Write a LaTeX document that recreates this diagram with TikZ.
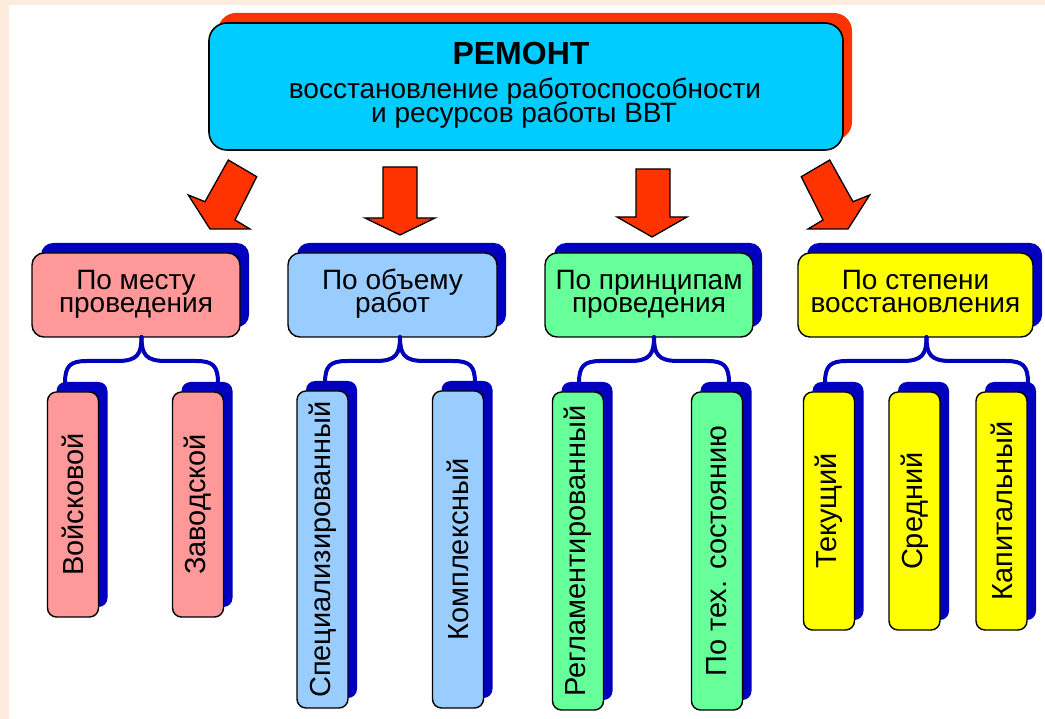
\documentclass[tikz,border=0pt]{standalone}
\usepackage{fontspec}
\setmainfont{Liberation Sans}
\usetikzlibrary{shadows}
\definecolor{peach}{RGB}{253,236,222}
\definecolor{cyanc}{RGB}{0,204,255}
\definecolor{redsh}{RGB}{255,51,0}
\definecolor{arrowc}{RGB}{255,51,0}
\definecolor{pinkc}{RGB}{255,153,153}
\definecolor{bluec}{RGB}{153,204,255}
\definecolor{greenc}{RGB}{102,255,153}
\definecolor{yellowc}{RGB}{255,255,0}
\definecolor{shblue}{RGB}{0,0,190}
\definecolor{bracec}{RGB}{0,0,185}
\newcommand\mybrace[3]{%
 \draw[bracest] (#1,337) .. controls (#1,354) and (#1-4,361) .. (#1-24,361) -- (#2+22,361) .. controls (#2+5,361) and (#2,366) .. (#2,383);
 \draw[bracest] (#1,337) .. controls (#1,354) and (#1+4,361) .. (#1+24,361) -- (#3-22,361) .. controls (#3-5,361) and (#3,366) .. (#3,383);
}
\begin{document}
\begin{tikzpicture}[x=1pt,y=-1pt,
  topbox/.style={draw=black, line width=1.6pt, fill=cyanc, rounded corners=18pt, inner sep=0pt,
     general shadow={fill=redsh, shadow xshift=9pt, shadow yshift=10pt}},
  midbox/.style={draw=black, line width=1.4pt, rounded corners=12pt, inner sep=0pt,
     minimum height=84pt,
     general shadow={fill=shblue, shadow xshift=9pt, shadow yshift=10pt}},
  midtext/.style={anchor=base, font=\fontsize{28}{24}\selectfont, inner sep=0pt},
  vbox/.style={draw=black, line width=1.4pt, rounded corners=9pt, inner sep=0pt,
     minimum width=51pt, font=\fontsize{29}{30}\selectfont,
     general shadow={fill=shblue, shadow xshift=9pt, shadow yshift=10pt}},
  arrowst/.style={fill=arrowc, draw=black, line width=1.3pt, line join=miter},
  bracest/.style={draw=bracec, line width=4pt, line cap=round}
]
\useasboundingbox (0,0) rectangle (1045,719);
\fill[peach] (0,0) rectangle (1045,719);
\fill[white] (9,5) rectangle (1045,719);

% top box
\node[topbox, minimum width=634pt, minimum height=127pt] (top) at (526,86.5) {};
\node[anchor=base, inner sep=0pt, font=\fontsize{32}{32}\selectfont\bfseries] (title) at (521,65) {РЕМОНТ};
\node[anchor=base, inner sep=0pt, font=\fontsize{28}{23}\selectfont] (line2) at (525,99) {восстановление работоспособности};
\node[anchor=base, inner sep=0pt, font=\fontsize{28}{23}\selectfont] (line3) at (524,123) {и ресурсов работы ВВТ};

% arrows
\filldraw[arrowst] (228.3,160) -- (256.7,176.7) -- (235,220) -- (250,229) -- (210,229) -- (188.3,195) -- (205,201.7) -- cycle;
\filldraw[arrowst] (383,167) -- (417,167) -- (417,218) -- (435,218) -- (400,235) -- (365,218) -- (383,218) -- cycle;
\filldraw[arrowst] (636,169) -- (670,169) -- (670,217) -- (687,217) -- (652,237) -- (617,217) -- (636,217) -- cycle;
\filldraw[arrowst] (829.7,160) -- (801.3,176.7) -- (823,220) -- (808,229) -- (848,229) -- (869.7,195) -- (853,201.7) -- cycle;

% level 2
\node[midbox, fill=pinkc, minimum width=208pt] (b1) at (136,295) {};
\node[midtext] (b1a) at (136,290) {По месту};
\node[midtext] (b1b) at (136,313) {проведения};
\node[midbox, fill=bluec, minimum width=209pt] (b2) at (392.5,295) {};
\node[midtext] (b2a) at (392.5,290) {По объему};
\node[midtext] (b2b) at (392.5,313) {работ};
\node[midbox, fill=greenc, minimum width=208pt] (b3) at (649,295) {};
\node[midtext] (b3a) at (649,290) {По принципам};
\node[midtext] (b3b) at (649,313) {проведения};
\node[midbox, fill=yellowc, minimum width=235pt] (b4) at (915.5,295) {};
\node[midtext] (b4a) at (915.5,290) {По степени};
\node[midtext] (b4b) at (915.5,313) {восстановления};

% braces
\mybrace{141.5}{65}{218}
\mybrace{400}{325}{475}
\mybrace{654}{579}{729}
\mybrace{926.5}{825}{1028}

% level 3
\node[vbox, fill=pinkc, minimum height=225pt] (v1) at (73,504.5) {\rotatebox{90}{Войсковой}};
\node[vbox, fill=pinkc, minimum height=225pt] (v2) at (198,504.5) {\rotatebox{90}{Заводской}};
\node[vbox, fill=bluec, minimum height=317pt] (v3) at (322.5,549.5) {\rotatebox{90}{Специализированный}};
\node[vbox, fill=bluec, minimum height=317pt] (v4) at (458,549.5) {\rotatebox{90}{Комплексный}};
\node[vbox, fill=greenc, minimum height=318pt] (v5) at (578,551) {\rotatebox{90}{Регламентированный}};
\node[vbox, fill=greenc, minimum height=318pt] (v6) at (717,551) {\rotatebox{90}{По тех. состоянию}};
\node[vbox, fill=yellowc, minimum height=238pt] (v7) at (829,511) {\rotatebox{90}{Текущий}};
\node[vbox, fill=yellowc, minimum height=238pt] (v8) at (914.5,511) {\rotatebox{90}{Средний}};
\node[vbox, fill=yellowc, minimum height=238pt] (v9) at (1001.5,511) {\rotatebox{90}{Капитальный}};
\end{tikzpicture}
\end{document}
